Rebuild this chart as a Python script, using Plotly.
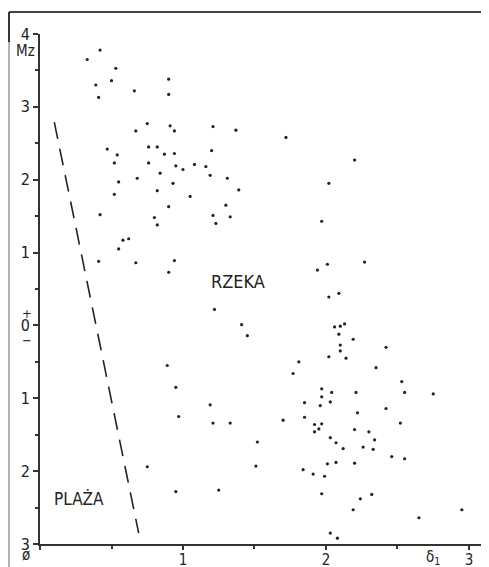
import plotly.graph_objects as go

# Sorting (delta_1) and mean grain size (Mz) of samples
sorting = [0.33, 0.42, 0.53, 0.39, 0.50, 0.41, 0.66, 0.90, 0.90, 0.75,
           0.67, 0.91, 0.94, 1.21, 1.37, 0.47, 0.54, 0.52, 0.76, 0.82,
           0.87, 0.94, 0.76, 0.95, 1.00, 1.08, 1.16, 1.20, 0.84, 0.68,
           0.55, 0.93, 1.19, 1.31, 1.39, 0.52, 0.82, 1.05, 1.72, 2.20,
           2.02, 0.42, 0.80, 0.90, 0.82, 1.21, 1.30, 1.33, 1.23, 0.58,
           0.62, 0.55, 0.41, 0.67, 0.94, 0.90, 1.22, 1.41, 1.45, 0.89,
           0.95, 1.97, 2.01, 1.94, 2.27, 2.02, 2.09, 2.06, 2.10, 2.13,
           2.09, 2.19, 2.10, 2.10, 2.02, 2.14, 2.42, 1.81, 1.77, 2.35,
           2.53, 1.97, 1.19, 0.97, 1.21, 1.33, 0.75, 0.95, 1.25, 2.04,
           2.21, 1.97, 2.55, 2.75, 1.85, 1.96, 2.03, 1.70, 1.85, 2.22,
           2.42, 2.52, 1.92, 1.97, 1.95, 1.92, 2.20, 2.30, 2.03, 2.07,
           2.34, 2.12, 2.26, 2.33, 1.52, 1.51, 2.46, 2.55, 2.01, 2.07,
           2.20, 1.84, 1.91, 1.99, 1.97, 2.24, 2.32, 2.19, 2.65, 2.95,
           2.03, 2.08]
mean_size = [3.65, 3.78, 3.53, 3.30, 3.36, 3.13, 3.22, 3.38, 3.17, 2.77,
             2.67, 2.74, 2.67, 2.73, 2.68, 2.42, 2.34, 2.23, 2.45, 2.45,
             2.35, 2.36, 2.23, 2.19, 2.14, 2.21, 2.18, 2.40, 2.09, 2.02,
             1.97, 1.95, 2.06, 2.02, 1.86, 1.80, 1.85, 1.77, 2.58, 2.27,
             1.95, 1.52, 1.48, 1.63, 1.38, 1.51, 1.65, 1.49, 1.40, 1.17,
             1.19, 1.05, 0.88, 0.86, 0.89, 0.73, 0.22, 0.01, -0.14, -0.55,
             -0.85, 1.43, 0.84, 0.76, 0.87, 0.39, 0.44, -0.02, -0.01, 0.02,
             -0.12, -0.19, -0.27, -0.35, -0.43, -0.45, -0.30, -0.50, -0.66, -0.58,
             -0.77, -0.87, -1.09, -1.25, -1.34, -1.34, -1.94, -2.28, -2.26, -0.92,
             -0.92, -0.98, -0.92, -0.94, -1.06, -1.10, -1.05, -1.30, -1.26, -1.20,
             -1.14, -1.34, -1.36, -1.35, -1.42, -1.46, -1.43, -1.46, -1.54, -1.61,
             -1.57, -1.69, -1.67, -1.70, -1.60, -1.93, -1.80, -1.83, -1.90, -1.88,
             -1.89, -1.98, -2.04, -2.07, -2.31, -2.38, -2.32, -2.53, -2.64, -2.53,
             -2.85, -2.92]

# Beach / river boundary line
boundary_x = [0.10, 0.69]
boundary_y = [2.79, -2.85]

# Axis ticks
x_tickvals = [0, 1, 2, 3]
x_ticktext = ["", "1", "2", "3"]
y_tickvals = [4, 3, 2, 1, 0, -1, -2, -3]
y_ticktext = ["4", "3", "2", "1", "0", "1", "2", "3"]

FONT = "DejaVu Sans Condensed, Liberation Sans Narrow, Arial Narrow, sans-serif"
INK = "#222222"

fig = go.Figure()
fig.add_trace(go.Scatter(
    x=boundary_x, y=boundary_y, mode="lines",
    line=dict(color=INK, width=1.6, dash="17px,10px"),
    hoverinfo="skip", showlegend=False))
fig.add_trace(go.Scatter(
    x=sorting, y=mean_size, mode="markers",
    marker=dict(color=INK, size=3.2),
    showlegend=False))

# page body has an 8px margin: figure is sized/offset to compensate
fig.update_layout(
    width=481, height=559,
    margin=dict(l=32, r=0, t=26, b=23, autoexpand=False),
    paper_bgcolor="white", plot_bgcolor="white",
    font=dict(family=FONT, color=INK, size=16),
    xaxis=dict(range=[0, 3.14], tickvals=x_tickvals, ticktext=x_ticktext,
               automargin=False,
               showgrid=False, zeroline=False, showline=True,
               linecolor="#333333", linewidth=2, ticks="outside",
               ticklen=4, tickwidth=1.5, tickcolor="#333333",
               ticklabelstandoff=-3,
               minor=dict(ticks="outside", dtick=0.5, ticklen=3,
                          tickcolor="#333333", showgrid=False),
               tickfont=dict(size=15, family=FONT, color=INK)),
    yaxis=dict(range=[-3, 4], tickvals=y_tickvals, ticktext=y_ticktext,
               automargin=False,
               showgrid=False, zeroline=False, showline=True,
               linecolor="#333333", linewidth=1.6, ticks="outside",
               ticklen=5, tickwidth=1.5, tickcolor="#333333",
               minor=dict(ticks="outside", dtick=0.5, ticklen=3,
                          tickcolor="#333333", showgrid=False),
               tickfont=dict(size=16, family=FONT, color=INK)),
    showlegend=False,
)

# Frame lines (scanned page border); paper coords from page pixels
def px(xp):
    return (xp - 40) / 449


def py(yp):
    return (544 - yp) / 510


fig.add_shape(type="line", xref="paper", yref="paper",
              x0=px(9), x1=1.0, y0=py(12), y1=py(12),
              line=dict(color="#444444", width=2))
fig.add_shape(type="line", xref="paper", yref="paper",
              x0=px(9), x1=px(9), y0=py(12), y1=py(567),
              line=dict(color="#9a9a9a", width=1.5))
fig.add_shape(type="line", xref="paper", yref="paper",
              x0=px(9), x1=px(9), y0=py(12), y1=py(42),
              line=dict(color="#333333", width=2))

annotations = [
    dict(text="Mz", x=25, y=51, size=15),
    dict(text="+", x=27, y=313, size=13),
    dict(text="−", x=27, y=340, size=13),
    dict(text="ø", x=26, y=555, size=15),
    dict(text="δ<sub>1</sub>", x=433, y=557, size=15),
]
for a in annotations:
    fig.add_annotation(text=a["text"], xref="paper", yref="paper",
                       x=px(a["x"]), y=py(a["y"]),
                       xanchor="center", yanchor="middle", showarrow=False,
                       font=dict(family=FONT, size=a["size"], color=INK))

fig.add_annotation(text="RZEKA", x=1.385, y=0.60, xref="x", yref="y",
                   showarrow=False, font=dict(family=FONT, size=18, color=INK))
fig.add_annotation(text="PLAŻA", x=0.27, y=-2.38, xref="x", yref="y",
                   showarrow=False, font=dict(family=FONT, size=17, color=INK))

fig.write_html("out.html")
